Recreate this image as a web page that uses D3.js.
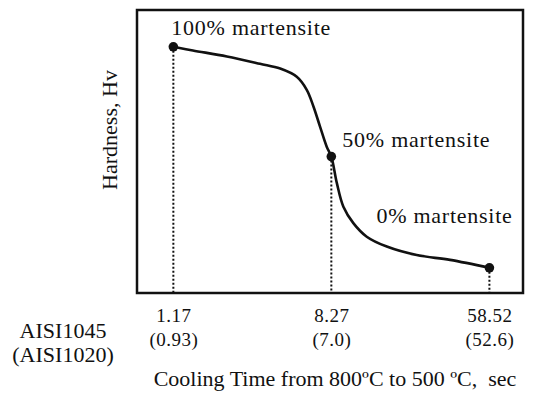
<!DOCTYPE html>
<html>
<head>
<meta charset="utf-8">
<script src="https://cdn.jsdelivr.net/npm/d3@7"></script>
<style>
  body { margin: 0; background: #fff; }
  text { font-family: "Liberation Serif", "Times New Roman", serif; fill: #111; }
</style>
</head>
<body>
<div id="chart"></div>
<script>
// ---- data ----
// cooling time (AISI1045, sec) and relative hardness along the curve
const coolingTime = [1.17, 1.49, 2.27, 3.42, 4.39, 5.39, 6.10, 6.62, 7.19, 7.81, 8.27, 8.85, 9.60, 10.86, 12.82, 16.43, 23.8, 35.96, 58.52];
const hardness    = [87.0, 85.7, 83.6, 81.0, 79.3, 76.4, 71.8, 66.0, 58.8, 51.7, 48.2, 38.9, 30.5, 24.7, 19.9, 16.4, 13.4, 11.7, 8.9];

// marked points
const markTime = [1.17, 8.27, 58.52];
const markHardness = [87.0, 48.2, 8.9];
const markLabels = ["100% martensite", "50% martensite", "0% martensite"];

// tick labels
const tickAISI1045 = ["1.17", "8.27", "58.52"];
const tickAISI1020 = ["(0.93)", "(7.0)", "(52.6)"];

const width = 538, height = 396;
const margin = {top: 10, right: 15, bottom: 103, left: 137};

const svg = d3.create("svg")
  .attr("width", width)
  .attr("height", height);

// log scale on time, hardness has no units
const x = d3.scaleLog()
  .domain([0.746, 88.7])
  .range([margin.left, width - margin.right]);

const y = d3.scaleLinear()
  .domain([0, 100])
  .range([height - margin.bottom, margin.top]);

// frame
svg.append("rect")
  .attr("x", margin.left)
  .attr("y", margin.top)
  .attr("width", width - margin.right - margin.left)
  .attr("height", height - margin.bottom - margin.top)
  .attr("fill", "none")
  .attr("stroke", "#111")
  .attr("stroke-width", 2.5);

// dotted drop lines
svg.append("g")
  .selectAll("line")
  .data(markTime)
  .join("line")
  .attr("x1", d => x(d))
  .attr("x2", d => x(d))
  .attr("y1", (d, i) => y(markHardness[i]))
  .attr("y2", y(0))
  .attr("stroke", "#111")
  .attr("stroke-width", 2)
  .attr("stroke-dasharray", "2,2");

// curve
const pts = coolingTime.map((t, i) => [t, hardness[i]]);
const line = d3.line()
  .x(d => x(d[0]))
  .y(d => y(d[1]))
  .curve(d3.curveCatmullRom.alpha(0.5));

svg.append("path")
  .datum(pts)
  .attr("d", line)
  .attr("fill", "none")
  .attr("stroke", "#111")
  .attr("stroke-width", 2.6);

// dots
svg.append("g")
  .selectAll("circle")
  .data(markTime)
  .join("circle")
  .attr("cx", d => x(d))
  .attr("cy", (d, i) => y(markHardness[i]))
  .attr("r", 4.8)
  .attr("fill", "#111");

// point labels
const labelPos = [
  {dx: -2, dy: -12},
  {dx: 11, dy: -10},
  {dx: -113, dy: -45}
];
svg.append("g")
  .selectAll("text")
  .data(markLabels)
  .join("text")
  .attr("x", (d, i) => x(markTime[i]) + labelPos[i].dx)
  .attr("y", (d, i) => y(markHardness[i]) + labelPos[i].dy)
  .attr("font-size", 22)
  .attr("letter-spacing", 0.75)
  .text(d => d);

// x tick labels, two rows
const axis1 = svg.append("g")
  .attr("transform", `translate(0, ${height - margin.bottom})`)
  .call(d3.axisBottom(x).tickValues(markTime).tickSize(0).tickFormat((d, i) => tickAISI1045[i]));
const axis2 = svg.append("g")
  .attr("transform", `translate(0, ${height - margin.bottom + 24})`)
  .call(d3.axisBottom(x).tickValues(markTime).tickSize(0).tickFormat((d, i) => tickAISI1020[i]));
[axis1, axis2].forEach(a => {
  a.select(".domain").remove();
  a.selectAll("text")
    .attr("font-family", null)
    .attr("font-size", 19)
    .attr("fill", "#222")
    .attr("letter-spacing", 0.5)
    .attr("dy", null)
    .attr("y", 29);
});

// row labels
svg.append("text")
  .attr("x", 63).attr("y", 338)
  .attr("text-anchor", "middle")
  .attr("font-size", 22)
  .text("AISI1045");
svg.append("text")
  .attr("x", 63).attr("y", 362)
  .attr("text-anchor", "middle")
  .attr("font-size", 22)
  .text("(AISI1020)");

// axis titles
svg.append("text")
  .attr("x", 335).attr("y", 386)
  .attr("text-anchor", "middle")
  .attr("font-size", 22)
  .attr("xml:space", "preserve")
  .text("Cooling Time from 800ºC to 500 ºC,  sec");

svg.append("text")
  .attr("transform", "translate(117, 130) rotate(-90)")
  .attr("text-anchor", "middle")
  .attr("font-size", 22)
  .text("Hardness, Hv");

document.getElementById("chart").appendChild(svg.node());
</script>
</body>
</html>
